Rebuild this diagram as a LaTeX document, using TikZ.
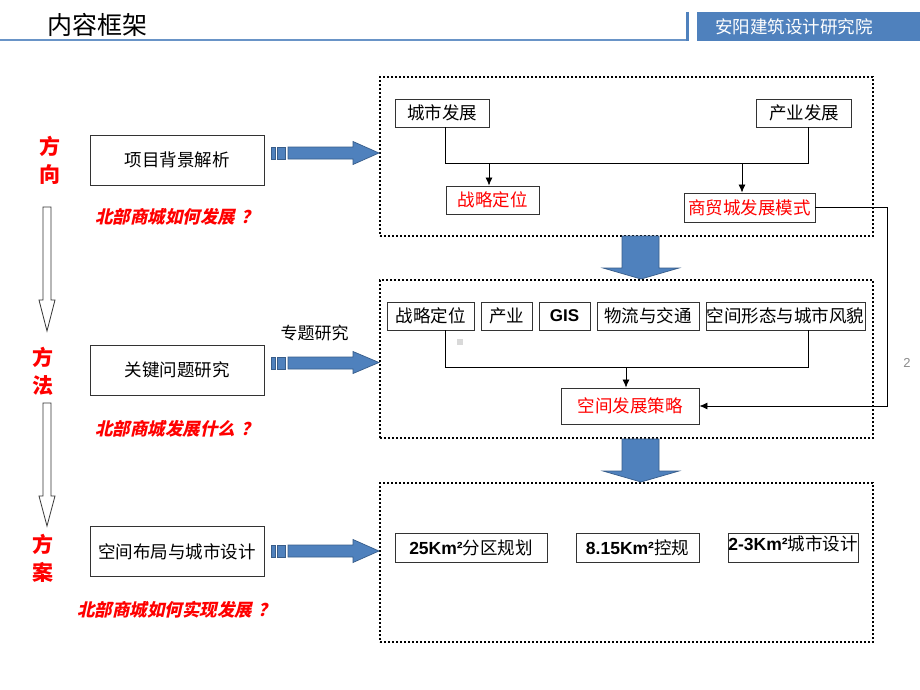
\documentclass[tikz,border=0pt]{standalone}
\usepackage{fontspec}
\setmainfont{Noto Sans CJK SC}
\newfontfamily\latinfont{Liberation Sans}
\newfontfamily\slantfont{Noto Sans CJK SC}[FakeSlant=0.22]
\usetikzlibrary{arrows.meta}
\definecolor{hdrblue}{RGB}{79,129,189}
\definecolor{arrowedge}{RGB}{56,93,138}

\begin{document}
\begin{tikzpicture}[x=1pt, y=-1pt,
  every node/.style={font=\fontsize{17.5}{17.5}\selectfont, inner sep=0pt},
  box/.style={draw=black!80, line width=0.9pt, minimum height=28},
  leftbox/.style={box, minimum width=174, minimum height=50},
  frame/.style={draw, line width=2pt, dash pattern=on 2pt off 2pt, minimum width=493},
  flow/.style={line width=0.8pt, -{Latex[length=8pt,width=7pt]}},
  wire/.style={line width=0.8pt},
  bigarrow/.style={fill=hdrblue, draw=arrowedge, line width=0.7pt},
  hollowarrow/.style={fill=white, draw=black!80, line width=0.8pt},
  question/.style={text=red, font=\slantfont\bfseries\fontsize{17.5}{17.5}\selectfont},
  stage/.style={text=red, align=center, font=\bfseries\fontsize{21}{28}\selectfont}]
  \path[fill=white, use as bounding box] (0,0) rectangle (920,690);

  % Header
  \node[font=\fontsize{25}{25}\selectfont] (title) at (97,25) {内容框架};
  \draw[hdrblue!85, line width=2pt] (0,40) -- (687,40);
  \draw[hdrblue, line width=3pt] (687,12) -- (687,41);
  \fill[hdrblue] (697,12) rectangle (920,41);
  \node[text=white] (inst) at (794,27) {安阳建筑设计研究院};

  % Stages
  \node[stage] (dir) at (50,160.5) {方\\向};
  \node[stage] (meth) at (43,371.5) {方\\法};
  \node[stage] (sol) at (43,558.5) {方\\案};
  \draw[hollowarrow] (43,207) -- (51,207) -- (51,300) -- (55,300) -- (47,331) -- (39,300) -- (43,300) -- cycle;
  \draw[hollowarrow] (43,403) -- (51,403) -- (51,496) -- (55,496) -- (47,526) -- (39,496) -- (43,496) -- cycle;

  % Left boxes
  \node[leftbox] (bg) at (177,160) {项目背景解析};
  \node[leftbox] (key) at (177,370) {关键问题研究};
  \node[leftbox] (layout) at (177,551.5) {空间布局与城市设计};
  \node[question] (q1) at (177,217) {北部商城如何发展\hspace{6pt}？};
  \node[question] (q2) at (177,428.5) {北部商城发展什么\hspace{6pt}？};
  \node[question] (q3) at (176.5,610) {北部商城如何实现发展\hspace{6pt}？};
  \node[font=\fontsize{17}{17}\selectfont] (topic) at (314.5,333) {专题研究};

  % Frames
  \node[frame, minimum height=159] (frameA) at (626.5,156.5) {};
  \node[frame, minimum height=158] (frameB) at (626.5,359) {};
  \node[frame, minimum height=159] (frameC) at (626.5,562.5) {};

  % Block arrows
  \draw[bigarrow] (288,147) -- (353,147) -- (353,141.5) -- (frameA.west |- 0,153) -- (353,164.5) -- (353,159) -- (288,159) -- cycle;
  \draw[bigarrow] (271,147) rectangle (275,159);
  \draw[bigarrow] (277,147) rectangle (285,159);
  \draw[bigarrow] (288,357) -- (353,357) -- (353,351.5) -- (frameB.west |- 0,362.5) -- (353,373.5) -- (353,369) -- (288,369) -- cycle;
  \draw[bigarrow] (271,357) rectangle (275,369);
  \draw[bigarrow] (277,357) rectangle (285,369);
  \draw[bigarrow] (288,545) -- (353,545) -- (353,539.5) -- (frameC.west |- 0,551) -- (353,562.5) -- (353,557) -- (288,557) -- cycle;
  \draw[bigarrow] (271,545) rectangle (275,557);
  \draw[bigarrow] (277,545) rectangle (285,557);
  \draw[bigarrow] (622,236) -- (659,236) -- (659,268) -- (679,268) -- (frameB.north -| 641,0) -- (603,268) -- (622,268) -- cycle;
  \draw[bigarrow] (622,439) -- (659,439) -- (659,471) -- (679,471) -- (frameC.north -| 641,0) -- (603,471) -- (622,471) -- cycle;

  % Frame A
  \node[box, minimum width=94] (city) at (442,113) {城市发展};
  \node[box, minimum width=95] (ind) at (804,113) {产业发展};
  \node[box, minimum width=93, text=red] (stratA) at (492.5,200) {战略定位};
  \node[box, minimum width=131, minimum height=29, text=red] (mode) at (749.5,207.5) {商贸城发展模式};
  \coordinate (jA) at (445,163);
  \draw[wire] (city.south -| jA) -- (jA) -| ([xshift=4pt]ind.south);
  \draw[flow] ([xshift=-3.5pt]stratA.north |- jA) -- ([xshift=-3.5pt]stratA.north);
  \draw[flow] ([xshift=-7.5pt]mode.north |- jA) -- ([xshift=-7.5pt]mode.north);

  % Frame B
  \node[box, minimum width=87] (sB1) at (430.5,316) {战略定位};
  \node[box, minimum width=51] (sB2) at (506.5,316) {产业};
  \node[box, minimum width=51, font=\latinfont\bfseries\fontsize{17}{17}\selectfont] (sB3) at (564.5,316) {GIS};
  \node[box, minimum width=102] (sB4) at (648,316) {物流与交通};
  \node[box, minimum width=159] (sB5) at (785.5,316) {空间形态与城市风貌};
  \node[box, minimum width=138, minimum height=36, text=red] (plan) at (630,406) {空间发展策略};
  \fill[black!15] (457,339) rectangle (463,345);
  \coordinate (jBl) at (445,367);
  \coordinate (jBr) at (808,367);
  \draw[wire] (jBl |- sB1.south) -- (jBl) -- (jBr) -- (jBr |- sB5.south);
  \draw[flow] ([xshift=-4pt]plan.north |- jBl) -- ([xshift=-4pt]plan.north);
  \draw[flow] (mode.east) -- ++(72,0) |- (plan.east);
  \node[font=\latinfont\fontsize{13}{13}\selectfont, text=black!45] (page) at (907,363) {2};

  % Frame C
  \node[box, minimum width=152, minimum height=29] (c1) at (471,547.5) {{\latinfont\bfseries 25Km²}分区规划};
  \node[box, minimum width=123, minimum height=29] (c2) at (637.5,547.5) {{\latinfont\bfseries 8.15Km²}控规};
  \node[box, minimum width=130, minimum height=29] (c3) at (793,547.5) {\raisebox{8pt}{{\latinfont\bfseries 2-3Km²}城市设计}};
\end{tikzpicture}
\end{document}
